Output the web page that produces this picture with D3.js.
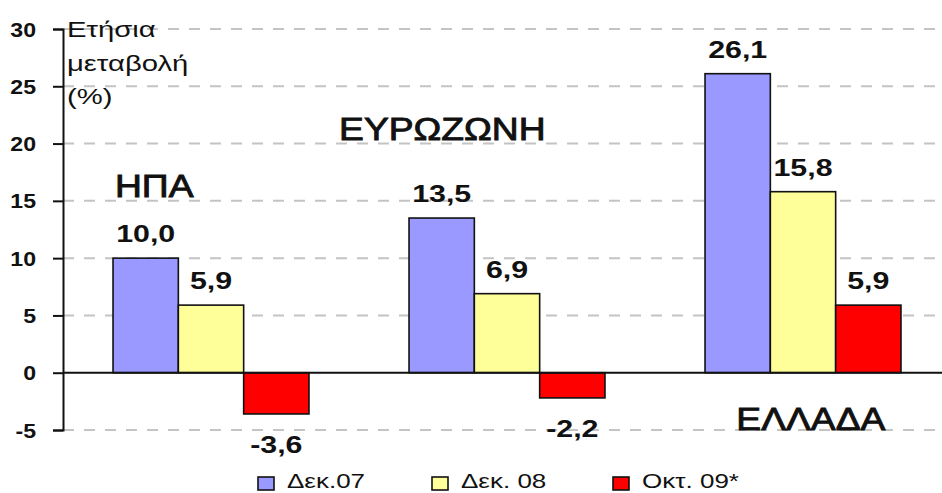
<!DOCTYPE html>
<html>
<head>
<meta charset="utf-8">
<script src="https://cdn.jsdelivr.net/npm/d3@7"></script>
<style>
  body { margin: 0; background: #fff; }
  svg { display: block; font-family: "Liberation Sans", Arial, sans-serif; }
</style>
</head>
<body>
<svg id="chart" width="942" height="493"></svg>
<script>
// data
const categories = ["ΗΠΑ", "ΕΥΡΩΖΩΝΗ", "ΕΛΛΑΔΑ"]
const seriesNames = ["Δεκ.07", "Δεκ. 08", "Οκτ. 09*"]
const dec07 = [10.0, 13.5, 26.1]
const dec08 = [5.9, 6.9, 15.8]
const oct09 = [-3.6, -2.2, 5.9]
const yTicks = [-5, 0, 5, 10, 15, 20, 25, 30]
const axisTitle = ["Ετήσια", "μεταβολή", "(%)"]

const colors = ["#9999FF", "#FFFF99", "#FF0000"]
const values = [dec07, dec08, oct09]

const svg = d3.select("#chart")
const stretch = 1.3   // the source picture is widened horizontally

// text helper: draws text widened horizontally around its anchor
function label(g, str, x, y, opts) {
  const t = g.append("text")
    .attr("transform", `translate(${x},${y}) scale(${opts.sx || stretch},1)`)
    .attr("text-anchor", opts.anchor || "start")
    .attr("font-size", opts.size)
    .attr("font-weight", opts.weight || "normal")
    .attr("fill", opts.fill || "#111")
    .text(str)
  if (opts.heavy) t.attr("stroke", opts.fill || "#111").attr("stroke-width", opts.heavy)
  return t
}

const fmt = v => d3.format(".1f")(v).replace(".", ",").replace("−", "-")

const x0 = d3.scaleBand()
  .domain(categories)
  .range([63, 951])
  .paddingInner(0.338)
  .paddingOuter(0.169)

const x1 = d3.scaleBand()
  .domain(seriesNames)
  .range([0, x0.bandwidth()])

const y = d3.scaleLinear()
  .domain([-5, 30])
  .range([430, 29])

// gridlines
svg.append("g")
  .selectAll("line")
  .data(yTicks.filter(d => d !== 0))
  .join("line")
  .attr("x1", 63)
  .attr("x2", 942)
  .attr("y1", d => y(d))
  .attr("y2", d => y(d))
  .attr("stroke", "#c4c4c4")
  .attr("stroke-width", 2)
  .attr("stroke-dasharray", "11,10")

// y axis
const yAxis = svg.append("g")
  .attr("transform", "translate(63,0)")
  .call(d3.axisLeft(y).tickValues(yTicks).tickSize(10))
yAxis.select(".domain").attr("stroke", "#111").attr("stroke-width", 2)
yAxis.selectAll(".tick line").attr("stroke", "#111").attr("stroke-width", 2)
yAxis.selectAll(".tick text").remove()
yAxis.selectAll(".tick").each(function (d) {
  label(d3.select(this), String(d), -27, 7, { size: 21, weight: "bold", anchor: "end", sx: 1.1 })
})

// bars
const groups = svg.append("g")
  .selectAll("g")
  .data(categories)
  .join("g")
  .attr("transform", d => `translate(${x0(d)},0)`)

groups.each(function (cat, ci) {
  const g = d3.select(this)
  seriesNames.forEach((s, si) => {
    const v = values[si][ci]
    g.append("rect")
      .attr("x", x1(s))
      .attr("width", x1.bandwidth())
      .attr("y", y(Math.max(0, v)))
      .attr("height", Math.abs(y(v) - y(0)))
      .attr("fill", colors[si])
      .attr("stroke", "#111")
      .attr("stroke-width", 1.6)
    const ly = v >= 0 ? y(v) - 16 : y(v) + 39
    label(g, fmt(v), x1(s) + x1.bandwidth() / 2, ly,
      { size: 23, weight: "bold", anchor: "middle", sx: 1.32 })
  })
})

// zero line
svg.append("line")
  .attr("x1", 63).attr("x2", 942)
  .attr("y1", y(0)).attr("y2", y(0))
  .attr("stroke", "#111").attr("stroke-width", 2)

// category names, placed freely as in the original
const catPos = [[0.21, 15.35], [0.17, 20.3], [0.54, -5.0]]
categories.forEach((c, i) => {
  label(svg, c, x0(c) + x0.bandwidth() * catPos[i][0], y(catPos[i][1]),
    { size: 31, anchor: "middle", sx: 1.2, heavy: 0.9 })
})

// axis title
axisTitle.forEach((t, i) => {
  label(svg, t, 67, 37 + i * 33.5, { size: 22.5 })
})

// legend
const legendX = [258, 432, 613]
seriesNames.forEach((s, i) => {
  svg.append("rect")
    .attr("x", legendX[i]).attr("y", 477)
    .attr("width", 16).attr("height", 13)
    .attr("fill", colors[i])
    .attr("stroke", "#111").attr("stroke-width", 1.6)
  label(svg, s, legendX[i] + 29, 488, { size: 20 })
})
</script>
</body>
</html>
